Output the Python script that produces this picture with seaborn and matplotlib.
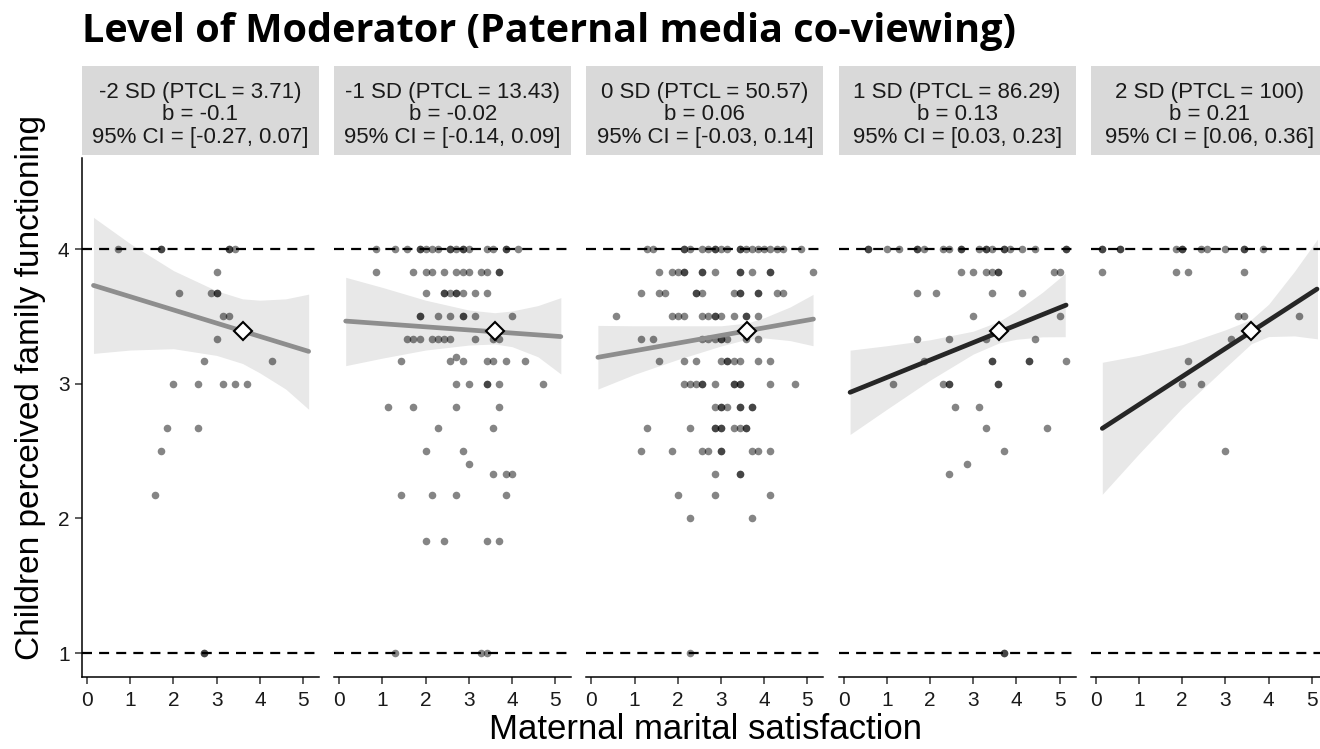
import numpy as np
import pandas as pd
import matplotlib
matplotlib.use("Agg")
import matplotlib.pyplot as plt
import seaborn as sns

# --------------------------------------------------
# DATA
# --------------------------------------------------

sd_levels = ["-2 SD", "-1 SD", "0 SD", "1 SD", "2 SD"]
ptcl = ["3.71", "13.43", "50.57", "86.29", "100"]
slopes = ["-0.1", "-0.02", "0.06", "0.13", "0.21"]
ci_low = ["-0.27", "-0.14", "-0.03", "0.03", "0.06"]
ci_high = ["0.07", "0.09", "0.14", "0.23", "0.36"]

# observed points, keyed by y level -> x values
p1 = {
    4.0: [0.71, 1.71, 1.71, 3.29, 3.29, 3.43],
    3.83: [3.0],
    3.67: [2.14, 2.86, 3.0, 3.0],
    3.5: [3.14, 3.29],
    3.33: [3.0],
    3.17: [2.71, 4.29],
    3.0: [2.0, 2.57, 3.14, 3.43, 3.71],
    2.67: [1.86, 2.57],
    2.5: [1.71],
    2.17: [1.57],
    1.0: [2.71, 2.71],
}
p2 = {
    4.0: [0.86, 1.29, 1.57, 1.86, 1.86, 2.0, 2.14, 2.29, 2.57, 2.57, 2.71,
          2.86, 2.86, 3.0, 3.43, 3.57, 3.86, 3.86, 4.14],
    3.83: [0.86, 1.71, 2.0, 2.14, 2.43, 2.71, 2.86, 3.0, 3.29, 3.43, 3.71, 3.71],
    3.67: [2.0, 2.43, 2.43, 2.57, 2.71, 2.71, 2.86, 3.14, 3.43],
    3.5: [1.86, 1.86, 2.29, 2.57, 2.86, 2.86, 3.14, 4.0],
    3.33: [1.57, 1.71, 1.86, 2.14, 2.29, 2.43, 2.57, 3.14, 3.57, 3.71],
    3.2: [2.71],
    3.17: [1.43, 2.57, 2.86, 3.43, 3.57, 3.86, 4.29],
    3.0: [2.71, 3.0, 3.43, 3.43, 3.71, 4.71],
    2.83: [1.14, 1.71, 2.71, 3.71],
    2.67: [2.29, 3.57],
    2.5: [2.0, 2.86],
    2.4: [3.0],
    2.33: [3.57, 3.86, 4.0],
    2.17: [1.43, 2.14, 2.71, 3.86],
    1.83: [2.0, 2.43, 3.43, 3.71],
    1.0: [1.29, 3.29, 3.43],
}
p3 = {
    4.0: [1.29, 1.43, 2.14, 2.14, 2.29, 2.57, 2.71, 2.86, 2.86, 3.0, 3.14,
          3.43, 3.43, 3.57, 3.71, 3.86, 4.0, 4.14, 4.29, 4.43, 4.86],
    3.83: [1.57, 1.86, 2.0, 2.14, 2.14, 2.57, 2.57, 2.86, 3.43, 3.43, 3.71,
           4.14, 4.14, 5.14],
    3.67: [1.14, 1.57, 1.71, 2.43, 2.43, 2.57, 3.29, 3.43, 3.43, 3.86, 3.86,
           4.29, 4.43],
    3.5: [0.57, 1.86, 2.0, 2.14, 2.57, 2.71, 2.86, 2.86, 3.0, 3.29, 3.57,
          3.57, 3.86],
    3.33: [1.14, 1.43, 2.57, 2.71, 2.86, 3.0, 3.0, 3.14, 3.57, 3.86],
    3.17: [1.57, 2.14, 2.43, 3.0, 3.14, 3.14, 3.29, 3.43, 3.86, 4.14],
    3.0: [2.14, 2.29, 2.43, 2.57, 2.57, 2.86, 3.29, 3.29, 3.43, 3.43, 4.14, 4.71],
    2.83: [2.86, 3.0, 3.0, 3.14, 3.43, 3.43, 3.71, 3.71],
    2.67: [1.29, 2.29, 2.86, 2.86, 3.0, 3.0, 3.29, 3.43, 3.57, 3.57],
    2.5: [1.14, 1.86, 2.57, 2.71, 3.0, 3.0, 3.71, 3.86, 4.14],
    2.33: [2.86, 3.43, 3.43],
    2.17: [2.0, 2.86, 4.14],
    2.0: [2.29, 3.71],
    1.0: [2.29],
}
p4 = {
    4.0: [0.57, 0.57, 1.0, 1.29, 1.71, 1.71, 1.86, 2.29, 2.43, 2.71, 2.71,
          3.14, 3.29, 3.29, 3.43, 3.71, 3.71, 3.86, 4.14, 4.43, 5.14, 5.14],
    3.83: [2.71, 3.0, 3.29, 3.43, 3.57, 3.57, 4.86, 5.0],
    3.67: [1.71, 2.14, 3.43, 4.14],
    3.5: [3.0, 5.0],
    3.33: [1.71, 2.43, 3.29, 4.43],
    3.17: [1.86, 3.43, 3.43, 4.29, 4.29, 5.14],
    3.0: [1.14, 2.29, 2.43, 2.43, 3.57, 3.57],
    2.83: [2.57, 3.14],
    2.67: [3.29, 4.71],
    2.5: [3.71],
    2.4: [2.86],
    2.33: [2.43],
    1.0: [3.71, 3.71],
}
p5 = {
    4.0: [0.14, 0.14, 0.57, 0.57, 1.86, 2.0, 2.0, 2.43, 2.57, 3.0, 3.43, 3.43, 3.86],
    3.83: [0.14, 1.86, 2.14, 3.43],
    3.5: [3.29, 3.43, 4.71],
    3.33: [3.14],
    3.17: [2.14],
    3.0: [2.0, 2.43],
    2.5: [3.0],
}
panel_points = [p1, p2, p3, p4, p5]

# simple slope lines (end points)
line_x0 = [0.15, 0.15, 0.15, 0.15, 0.15]
line_x1 = [5.13, 5.13, 5.14, 5.15, 5.12]
line_y0 = [3.73, 3.465, 3.196, 2.936, 2.668]
line_y1 = [3.24, 3.35, 3.48, 3.584, 3.703]

# confidence bands
band_x = [0.15, 1.0, 2.0, 3.0, 3.6, 4.0, 4.6, 5.13]
band_hi = [
    [4.235, 4.04, 3.84, 3.69, 3.63, 3.62, 3.63, 3.665],
    [3.79, 3.715, 3.62, 3.547, 3.527, 3.54, 3.58, 3.639],
    [3.433, 3.43, 3.43, 3.43, 3.45, 3.49, 3.57, 3.663],
    [3.249, 3.282, 3.326, 3.39, 3.463, 3.54, 3.678, 3.819],
    [3.159, 3.21, 3.29, 3.40, 3.477, 3.59, 3.835, 4.073],
]
band_lo = [
    [3.225, 3.25, 3.26, 3.21, 3.15, 3.08, 2.96, 2.81],
    [3.134, 3.19, 3.25, 3.287, 3.295, 3.275, 3.20, 3.072],
    [2.96, 3.07, 3.18, 3.28, 3.33, 3.34, 3.32, 3.282],
    [2.623, 2.81, 3.026, 3.22, 3.303, 3.33, 3.348, 3.349],
    [2.179, 2.48, 2.82, 3.12, 3.297, 3.35, 3.355, 3.333],
]

# mean point marker
center_x = [3.6, 3.6, 3.6, 3.6, 3.6]
center_y = [3.39, 3.39, 3.39, 3.39, 3.39]

line_colors = ["#8e8e8e", "#8e8e8e", "#8e8e8e", "#262626", "#262626"]

# --------------------------------------------------
# PLOT
# --------------------------------------------------

sns.set_style("white")
plt.rcParams["font.family"] = ["Liberation Sans", "DejaVu Sans"]

W, H = 1320, 749
fig = plt.figure(figsize=(W / 100, H / 100), dpi=100)

panel_w = 237
panel_step = 252.2
panel_top, panel_bottom = 158, 677
strip_top, strip_bottom = 66, 155
dash = (0, (4.5, 3.2))

for i in range(5):
    left = 82 + i * panel_step
    ax = fig.add_axes([left / W, (H - panel_bottom) / H,
                       panel_w / W, (panel_bottom - panel_top) / H])

    ax.fill_between(band_x, band_lo[i], band_hi[i],
                    color="#e8e8e8", lw=0, zorder=1)
    ax.axhline(4, color="black", lw=1.6, ls=dash, zorder=2)
    ax.axhline(1, color="black", lw=1.6, ls=dash, zorder=2)

    rows = panel_points[i]
    df = pd.DataFrame({
        "x": [x for yv, xs in rows.items() for x in xs],
        "y": [yv for yv, xs in rows.items() for x in xs],
    })
    sns.scatterplot(data=df, x="x", y="y", color="black", alpha=0.48,
                    s=30, linewidth=0, ax=ax, zorder=3)

    sns.lineplot(x=[line_x0[i], line_x1[i]], y=[line_y0[i], line_y1[i]],
                 color=line_colors[i], lw=3.4, errorbar=None, ax=ax, zorder=4)

    ax.plot(center_x[i], center_y[i], marker="D", ms=9.5, mfc="white",
            mec="black", mew=1.5, zorder=5)

    ax.set_xlim(-0.116, 5.37)
    ax.set_ylim(0.822, 4.676)
    ax.set_xticks(range(6))
    ax.set_xticklabels([str(t) for t in range(6)])
    ax.set_xlabel("")
    ax.set_ylabel("")
    ax.set_facecolor("white")

    for s in ["top", "right"]:
        ax.spines[s].set_visible(False)
    ax.spines["bottom"].set_linewidth(1.1)
    ax.spines["bottom"].set_color("black")
    ax.tick_params(axis="x", length=5, width=1.1, color="#333333",
                   labelsize=15, labelcolor="#1a1a1a", pad=5, bottom=True)
    if i == 0:
        ax.spines["left"].set_linewidth(1.1)
        ax.spines["left"].set_color("black")
        ax.set_yticks([1, 2, 3, 4])
        ax.set_yticklabels(["1", "2", "3", "4"])
        ax.tick_params(axis="y", length=5, width=1.1, color="#333333",
                       labelsize=15, labelcolor="#1a1a1a", pad=4, left=True)
    else:
        ax.spines["left"].set_visible(False)
        ax.set_yticks([])

    # facet strip
    sax = fig.add_axes([left / W, (H - strip_bottom) / H,
                        panel_w / W, (strip_bottom - strip_top) / H])
    sax.set_facecolor("#d9d9d9")
    sax.set_xticks([])
    sax.set_yticks([])
    for s in sax.spines.values():
        s.set_visible(False)
    label = (f"{sd_levels[i]} (PTCL = {ptcl[i]})\n"
             f"b = {slopes[i]}\n"
             f"95% CI = [{ci_low[i]}, {ci_high[i]}]")
    sax.text(0.5, 0.45, label, ha="center", va="center", fontsize=16,
             linespacing=1.1, color="#1a1a1a", transform=sax.transAxes)

fig.text(82 / W, 1 - 42 / H, "Level of Moderator (Paternal media co-viewing)",
         fontsize=28.5, fontweight="bold", family=["Open Sans", "DejaVu Sans"],
         va="baseline", ha="left", color="black")
fig.text(706 / W, (H - 739) / H, "Maternal marital satisfaction",
         fontsize=25, ha="center", va="baseline", color="black")
fig.text(31 / W, 1 - 388 / H, "Children perceived family functioning",
         fontsize=24, rotation=90, ha="center", va="center", color="black")

fig.savefig("out.png", dpi=100)
